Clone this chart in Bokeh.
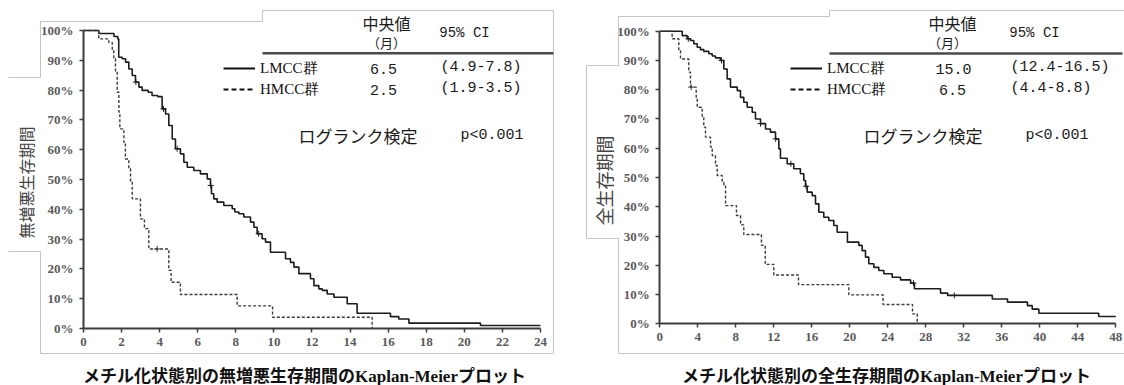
import numpy as np
from bokeh.plotting import figure
from bokeh.models import (Range1d, Label, BoxAnnotation, Legend, LegendItem,
                          FixedTicker, NumeralTickFormatter, LinearAxis)
from bokeh.layouts import row
from bokeh.embed import file_html
from bokeh.resources import INLINE

# ---------------- data ----------------
# Progression-free survival (months, survival after each step)
pfs_lmcc_t = [0, 0.80, 1.60, 1.80, 1.85, 2.03, 2.21, 2.38, 2.56, 2.73, 2.91, 3.08, 3.40, 3.60, 3.90,
              4.13, 4.31, 4.48, 4.66, 4.83, 5.09, 5.27, 5.45, 5.79, 6.14, 6.50, 6.67, 6.72, 6.84, 7.02,
              7.37, 7.81, 7.95, 8.16, 8.42, 8.77, 8.95, 9.12, 9.38, 9.56, 9.82, 10.61, 10.87, 11.05,
              11.31, 11.92, 12.10, 12.36, 12.54, 12.80, 13.15, 13.85, 14.37, 16.12, 16.56, 17.09,
              20.85, 24.0]
pfs_lmcc_s = [1.0, 0.990, 0.980, 0.972, 0.910, 0.905, 0.894, 0.871, 0.849, 0.827, 0.810, 0.799, 0.793,
              0.782, 0.778, 0.737, 0.720, 0.681, 0.636, 0.603, 0.586, 0.558, 0.541, 0.530, 0.519, 0.502,
              0.480, 0.452, 0.435, 0.424, 0.413, 0.402, 0.391, 0.385, 0.374, 0.357, 0.340, 0.318, 0.301,
              0.290, 0.256, 0.234, 0.222, 0.206, 0.184, 0.167, 0.144, 0.133, 0.128, 0.116, 0.105, 0.083,
              0.051, 0.040, 0.032, 0.018, 0.010, 0.010]
pfs_hmcc_t = [0, 0.80, 1.33, 1.51, 1.59, 1.68, 1.77, 1.86, 1.91, 2.12, 2.20, 2.38, 2.47, 2.56, 2.99,
              3.20, 3.43, 4.48, 4.60, 5.09, 8.07, 9.93, 15.16]
pfs_hmcc_s = [1.0, 0.972, 0.960, 0.933, 0.905, 0.860, 0.793, 0.726, 0.670, 0.625, 0.569, 0.536, 0.491,
              0.435, 0.368, 0.335, 0.267, 0.195, 0.155, 0.114, 0.076, 0.038, 0.0]
pfs_lmcc_cens = [2.75, 4.20, 4.92, 6.68, 9.20]
pfs_hmcc_cens = [3.87]

# Overall survival
os_lmcc_t = [0, 2.36, 2.88, 3.23, 3.58, 3.94, 4.28, 4.63, 5.16, 5.52, 5.86, 6.39, 6.74, 7.09, 7.44,
             8.15, 8.49, 8.84, 9.20, 9.73, 10.07, 10.60, 11.13, 11.65, 12.18, 12.53, 12.70, 13.41,
             14.10, 14.80, 15.16, 15.34, 15.52, 16.04, 16.39, 16.74, 17.26, 17.79, 18.32, 18.67, 19.75,
             20.95, 21.30, 21.65, 22.00, 22.53, 23.05, 23.58, 24.46, 25.34, 26.40, 26.80, 29.55, 30.30,
             35.00, 36.60, 38.70, 39.20, 39.90, 46.20, 48.0]
os_lmcc_s = [1.0, 0.985, 0.974, 0.968, 0.957, 0.945, 0.937, 0.931, 0.923, 0.915, 0.909, 0.900, 0.871,
             0.837, 0.809, 0.797, 0.774, 0.757, 0.740, 0.723, 0.700, 0.684, 0.666, 0.655, 0.632, 0.598,
             0.566, 0.547, 0.530, 0.513, 0.490, 0.470, 0.450, 0.438, 0.410, 0.381, 0.364, 0.353, 0.336,
             0.313, 0.279, 0.268, 0.250, 0.228, 0.205, 0.193, 0.182, 0.171, 0.159, 0.150, 0.139, 0.120,
             0.105, 0.097, 0.085, 0.074, 0.062, 0.050, 0.036, 0.025, 0.025]
os_hmcc_t = [0, 1.30, 2.00, 2.18, 3.05, 3.23, 3.83, 3.94, 4.46, 4.63, 4.81, 5.34, 5.52, 5.86, 6.04,
             6.57, 6.74, 6.92, 8.07, 8.50, 8.84, 10.70, 11.10, 12.00, 14.60, 19.90, 23.50, 26.60, 27.10]
os_hmcc_s = [1.0, 0.974, 0.934, 0.905, 0.860, 0.809, 0.774, 0.740, 0.706, 0.672, 0.638, 0.604, 0.575,
             0.541, 0.507, 0.484, 0.473, 0.404, 0.370, 0.338, 0.305, 0.268, 0.203, 0.167, 0.134, 0.099,
             0.066, 0.034, 0.0]
os_lmcc_cens = [3.0, 6.5, 10.6, 12.2, 13.8, 15.4, 26.7, 31.0]
os_hmcc_cens = [3.3]

pfs_median = ["6.5", "2.5"]
pfs_ci = ["(4.9-7.8)", "(1.9-3.5)"]
os_median = ["15.0", "6.5"]
os_ci = ["(12.4-16.5)", "(4.4-8.8)"]
groups = ["LMCC群", "HMCC群"]
pfs_xticks = list(range(0, 25, 2))
os_xticks = list(range(0, 49, 4))
yticks = [i / 10 for i in range(11)]
pfs_ylabel = "無増悪生存期間"
os_ylabel = "全生存期間"
pfs_title = "メチル化状態別の無増悪生存期間のKaplan-Meierプロット"
os_title = "メチル化状態別の全生存期間のKaplan-Meierプロット"
logrank = "ログランク検定"
pval = "p<0.001"

# ---------------- helpers ----------------
CJK = "Noto Sans CJK JP"
MONO = "Liberation Mono"
SERIF = "Liberation Serif"
FRAME_GRAY = "#c4c4c4"
W, H = 562, 385


def s_at(ts, ss, t):
    i = int(np.searchsorted(np.array(ts), t, side="right")) - 1
    return ss[i]


def hline(p, x0, x1, y, w=1.0, color=FRAME_GRAY):
    p.add_layout(BoxAnnotation(left=x0, right=x1, top=y - w / 2, bottom=y + w / 2,
                               left_units="canvas", right_units="canvas",
                               top_units="canvas", bottom_units="canvas",
                               fill_color=color, fill_alpha=1.0, line_alpha=0.0))


def vline(p, x, y0, y1, w=1.0, color=FRAME_GRAY):
    p.add_layout(BoxAnnotation(left=x - w / 2, right=x + w / 2, top=y0, bottom=y1,
                               left_units="canvas", right_units="canvas",
                               top_units="canvas", bottom_units="canvas",
                               fill_color=color, fill_alpha=1.0, line_alpha=0.0))


def label(p, x, y, text, font=CJK, size="15px", align="left", baseline="middle",
          color="#1a1a1a", style="normal", angle=0.0):
    p.add_layout(Label(x=x, y=y, x_units="canvas", y_units="canvas", text=text,
                       text_font=font, text_font_size=size, text_align=align,
                       text_baseline=baseline, text_color=color, text_font_style=style,
                       angle=angle))


def make_panel(x0px, x_ppu, y0px, y_ppu, xmax, xticks,
               lm_t, lm_s, hm_t, hm_s, lm_c, hm_c, legend_loc):
    # the frame covers the whole canvas; axes are drawn at fixed locations
    x_range = Range1d(-x0px / x_ppu, (W - x0px) / x_ppu)
    y_range = Range1d(-(H - y0px) / y_ppu, y0px / y_ppu)
    p = figure(width=W, height=H, output_backend="svg", toolbar_location=None,
               x_range=x_range, y_range=y_range, x_axis_location=None, y_axis_location=None)
    p.min_border = 0
    p.min_border_left = 0
    p.min_border_right = 0
    p.min_border_top = 0
    p.min_border_bottom = 0
    p.outline_line_color = None
    p.background_fill_color = "white"
    p.border_fill_color = "white"
    for g in p.grid:
        g.visible = False
        g.grid_line_color = None

    xa = LinearAxis(fixed_location=0, ticker=FixedTicker(ticks=xticks), bounds=(0, xmax))
    ya = LinearAxis(fixed_location=0, ticker=FixedTicker(ticks=yticks), bounds=(0, 1),
                    formatter=NumeralTickFormatter(format="0%"))
    for ax in (xa, ya):
        ax.axis_line_color = "#3c3c3c"
        ax.axis_line_width = 2
        ax.major_tick_line_color = "#3c3c3c"
        ax.major_tick_line_width = 1.5
        ax.major_tick_out = 4
        ax.major_tick_in = 0
        ax.minor_tick_line_color = None
        ax.major_label_text_font = SERIF
        ax.major_label_text_font_size = "13px"
        ax.major_label_text_font_style = "bold"
        ax.major_label_text_color = "#5a5a5a"
    xa.major_label_standoff = 5
    ya.major_label_standoff = 6
    p.add_layout(xa, "below")
    p.add_layout(ya, "left")

    p.step(lm_t, lm_s, mode="after", line_color="#1c1c1c", line_width=1.6)
    p.step(hm_t, hm_s, mode="after", line_color="#3a3a3a", line_width=1.4, line_dash="3 2")
    p.scatter(lm_c, [s_at(lm_t, lm_s, t) for t in lm_c], marker="cross", size=6,
              line_color="#1c1c1c", line_width=1)
    p.scatter(hm_c, [s_at(hm_t, hm_s, t) for t in hm_c], marker="cross", size=6,
              line_color="#3a3a3a", line_width=1)

    # legend proxies (no visible data)
    r1 = p.line([np.nan], [np.nan], line_color="#111111", line_width=2.2)
    r2 = p.line([np.nan], [np.nan], line_color="#111111", line_width=2.0, line_dash="5 3")
    leg = Legend(items=[LegendItem(label=groups[0], renderers=[r1]),
                        LegendItem(label=groups[1], renderers=[r2])],
                 location=legend_loc, orientation="vertical",
                 glyph_width=32, glyph_height=20, label_height=20, spacing=1,
                 padding=0, margin=0, label_standoff=5,
                 label_text_font=SERIF, label_text_font_size="15px",
                 label_text_color="#111111",
                 background_fill_alpha=0, border_line_color=None)
    p.add_layout(leg)
    return p


# ---------------- left panel (PFS) ----------------
p1 = make_panel(83.0, 19.04, 328.0, 298.0, 24, pfs_xticks,
                pfs_lmcc_t, pfs_lmcc_s, pfs_hmcc_t, pfs_hmcc_s, pfs_lmcc_cens, pfs_hmcc_cens,
                (223, 286))
hline(p1, 40, 262, 21)
vline(p1, 262, 10, 21)
hline(p1, 262, 553, 10)
vline(p1, 553, 10, 353)
hline(p1, 40, 553, 353)
vline(p1, 40, 21, 77)
hline(p1, 8, 40, 77)
hline(p1, 8, 40, 251)
vline(p1, 40, 251, 353)
hline(p1, 262, 553, 52.7, w=2.5, color="#4a4a4a")
label(p1, 386, 22, "中央値", size="16px", align="center")
label(p1, 386, 42, "（月）", size="13px", align="center")
label(p1, 464, 32, "95% CI", font=MONO, size="14px", align="center")
label(p1, 383, 68, pfs_median[0], font=MONO, size="15px", align="center")
label(p1, 383, 89, pfs_median[1], font=MONO, size="15px", align="center")
label(p1, 440, 67, pfs_ci[0], font=MONO, size="15px")
label(p1, 440, 88, pfs_ci[1], font=MONO, size="15px")
label(p1, 298, 135, logrank, size="17px")
label(p1, 460, 135, pval, font=MONO, size="15px")
label(p1, 25, 182, pfs_ylabel, size="16px", align="center", color="#444444", angle=np.pi / 2)
label(p1, 304, 376, pfs_title, font="Liberation Serif, Noto Sans CJK JP", size="17px",
      align="center", style="bold", color="#111111")

# ---------------- right panel (OS) ----------------
p2 = make_panel(97.3, 9.5, 323.3, 292.6, 48, os_xticks,
                os_lmcc_t, os_lmcc_s, os_hmcc_t, os_hmcc_s, os_lmcc_cens, os_hmcc_cens,
                (228, 286))
hline(p2, 56, 267, 16)
vline(p2, 267, 10, 16)
hline(p2, 267, 562, 10)
vline(p2, 56, 16, 65)
hline(p2, 24, 56, 65)
vline(p2, 24, 65, 238)
hline(p2, 24, 56, 238)
vline(p2, 56, 238, 353)
hline(p2, 56, 562, 353)
hline(p2, 267, 560, 53, w=2.5, color="#4a4a4a")
label(p2, 390, 22, "中央値", size="16px", align="center")
label(p2, 385, 42, "（月）", size="13px", align="center")
label(p2, 472, 32, "95% CI", font=MONO, size="14px", align="center")
label(p2, 391, 68, os_median[0], font=MONO, size="15px", align="center")
label(p2, 390, 89, os_median[1], font=MONO, size="15px", align="center")
label(p2, 448, 67, os_ci[0], font=MONO, size="15px")
label(p2, 448, 88, os_ci[1], font=MONO, size="15px")
label(p2, 301, 135, logrank, size="17px")
label(p2, 463, 135, pval, font=MONO, size="15px")
label(p2, 41, 180, os_ylabel, size="18px", align="center", color="#444444", angle=np.pi / 2)
label(p2, 324, 376, os_title, font="Liberation Serif, Noto Sans CJK JP", size="17px",
      align="center", style="bold", color="#111111")

layout = row(p1, p2, spacing=0)
open("out.html", "w").write(file_html(layout, INLINE))
